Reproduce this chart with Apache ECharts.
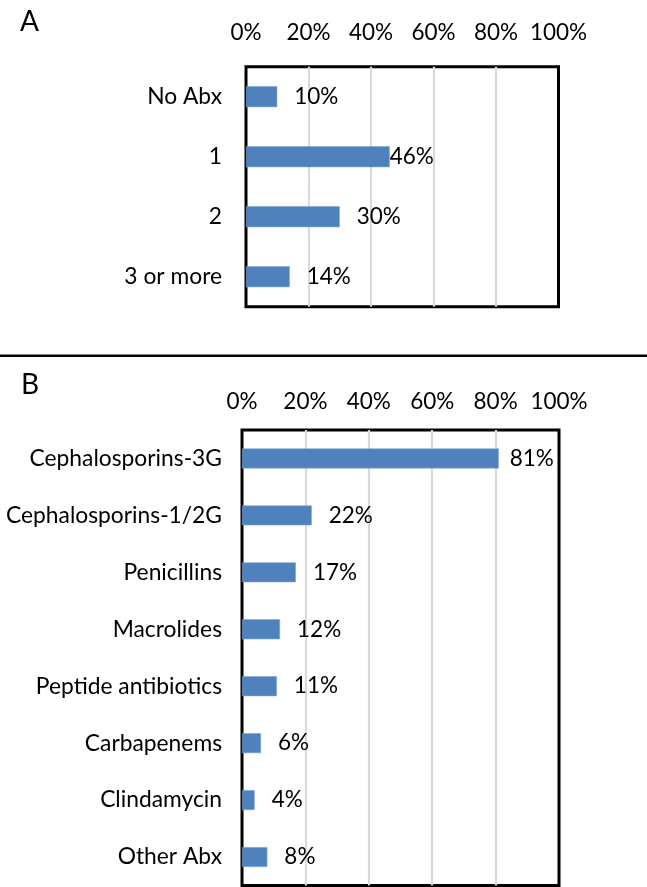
<!DOCTYPE html>
<html><head><meta charset="utf-8">
<script src="https://cdn.jsdelivr.net/npm/echarts@6/dist/echarts.min.js"></script>
<style>html,body{margin:0;padding:0;background:#fff}#c{width:647px;height:887px}</style>
</head><body><div id="c"></div>
<script>
const catsA = ['No Abx', '1', '2', '3 or more'];
const valsA = [10, 46, 30, 14];
const catsB = ['Cephalosporins-3G', 'Cephalosporins-1/2G', 'Penicillins', 'Macrolides', 'Peptide antibiotics', 'Carbapenems', 'Clindamycin', 'Other Abx'];
const valsB = [81, 22, 17, 12, 11, 6, 4, 8];
const ticks = [0, 20, 40, 60, 80, 100];

const FONT = 'Lato';
const FS_NUM = 22.5;
const FS_CAT = 22.8;
const BLUE = '#4f81bd';

function xAxisCfg(gi, margin) {
  return {
    gridIndex: gi, type: 'value', position: 'top', min: ticks[0], max: ticks[ticks.length-1], interval: 20,
    axisLine: {show: false}, axisTick: {show: false},
    axisLabel: {formatter: v => v + '%', color: '#000', fontFamily: FONT, fontSize: FS_NUM, margin: margin},
    splitLine: {show: true, showMinLine: false, showMaxLine: false, lineStyle: {color: '#d9d9d9', width: 2.2}}
  };
}
function yAxisCfg(gi, cats, margin) {
  return {
    gridIndex: gi, type: 'category', data: cats, inverse: true,
    axisLine: {show: false}, axisTick: {show: false},
    axisLabel: {color: '#000', fontFamily: FONT, fontSize: FS_CAT, margin: margin}
  };
}
function seriesCfg(gi, vals, dist) {
  return {
    type: 'bar', xAxisIndex: gi, yAxisIndex: gi, barWidth: '35%',
    itemStyle: {color: BLUE, borderColor: '#7ea6d6', borderWidth: 0.6},
    data: vals.map((v, i) => ({value: v, label: {distance: dist[i]}})),
    label: {show: true, position: 'right', formatter: p => p.value + '%', color: '#000', fontFamily: FONT, fontSize: FS_NUM},
    animation: false
  };
}

const chart = echarts.init(document.getElementById('c'), null, {renderer: 'canvas'});
chart.setOption({
  animation: false,
  backgroundColor: '#fff',
  title: [
    {text: 'A', left: 15, top: 3, textStyle: {fontFamily: FONT, fontSize: 28, fontWeight: 'normal', color: '#000'}},
    {text: 'B', left: 16, top: 366, textStyle: {fontFamily: FONT, fontSize: 28, fontWeight: 'normal', color: '#000'}}
  ],
  grid: [
    {left: 246, right: 88.5, top: 66.7, bottom: 580.3, show: true, borderColor: '#000', borderWidth: 3, containLabel: false, outerBoundsMode: 'none'},
    {left: 242, right: 88, top: 430, bottom: 1.5, show: true, borderColor: '#000', borderWidth: 3, containLabel: false, outerBoundsMode: 'none'}
  ],
  xAxis: [xAxisCfg(0, 22), xAxisCfg(1, 17)],
  yAxis: [yAxisCfg(0, catsA, 24), yAxisCfg(1, catsB, 20)],
  series: [
    seriesCfg(0, valsA, [17, 0, 17, 17]),
    seriesCfg(1, valsB, [11, 17, 17, 17, 17, 17, 17, 17])
  ],
  graphic: [
    {type: 'line', shape: {x1: 0, y1: 355.7, x2: 647, y2: 355.7}, style: {stroke: '#000', lineWidth: 2.5}}
  ]
});
</script></body></html>
